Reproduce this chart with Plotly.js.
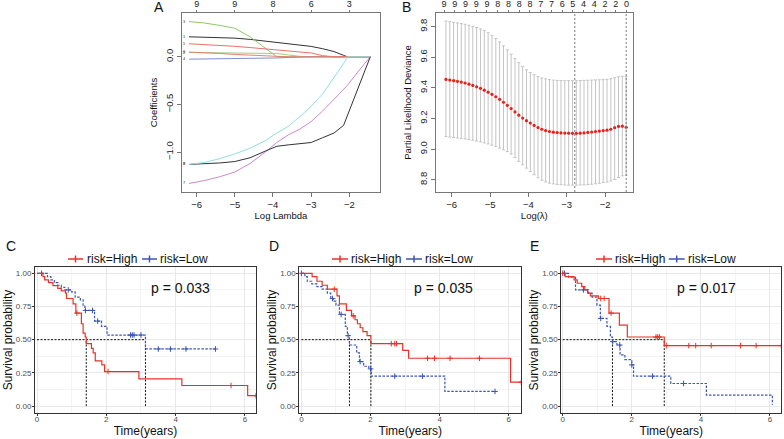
<!DOCTYPE html>
<html><head><meta charset="utf-8">
<script src="https://cdn.plot.ly/plotly-3.0.1.min.js"></script>
<style>html,body{margin:0;padding:0;background:#fff}#chart{width:784px;height:439px}</style>
</head><body><div id="chart"></div>
<script>
// ---------- Panel A: LASSO coefficient paths ----------
const aLogLambda = [-6.2,-5.8,-5.4,-5.0,-4.6,-4.2,-3.9,-3.6,-3.3,-3.0,-2.7,-2.4,-2.15,-2.05,-1.8,-1.45];
const aCoefV1 = [0.21,0.207,0.202,0.196,0.183,0.163,0.15,0.137,0.123,0.109,0.085,0.055,0.015,0,0,0];
const aCoefV2 = [0.045,0.044,0.043,0.042,0.041,0.04,0.035,0.02,0.005,0,0,0,0,0,0,0];
const aCoefV3 = [0.37,0.355,0.33,0.30,0.21,0.085,0,0,0,0,0,0,0,0,0,0];
const aCoefV4 = [-0.025,-0.024,-0.022,-0.02,-0.018,-0.015,-0.012,-0.007,0,0,0,0,0,0,0,0];
const aCoefV5 = [0.137,0.13,0.12,0.11,0.097,0.082,0.072,0.063,0.054,0.04,0.012,0,0,0,0,0];
const aCoefV6 = [0.05,0.045,0.035,0.025,0.015,0.01,0.005,0,0,0,0,0,0,0,0,0];
const aCoefV7 = [-1.33,-1.30,-1.26,-1.21,-1.12,-1.00,-0.90,-0.82,-0.76,-0.68,-0.57,-0.45,-0.34,-0.30,-0.17,0];
const aCoefV8 = [-1.13,-1.125,-1.115,-1.10,-1.06,-0.99,-0.94,-0.925,-0.915,-0.90,-0.85,-0.80,-0.72,-0.62,-0.36,0];
const aCoefV9 = [-1.13,-1.11,-1.07,-1.02,-0.96,-0.88,-0.80,-0.73,-0.63,-0.52,-0.39,-0.22,-0.07,0,0,0];
const aVarLabels = ['1','2','3','4','5','6','7','8','9'];
const aTopPos = [-6,-5,-4,-3,-2];
const aTopLabels = ['9','9','8','6','3'];

// ---------- Panel B: cross-validation ----------
const bLogLambda = [-6.15,-6.05,-5.95,-5.85,-5.75,-5.65,-5.55,-5.45,-5.35,-5.25,-5.15,-5.05,-4.95,-4.85,-4.75,-4.65,-4.55,-4.45,-4.35,-4.25,-4.15,-4.05,-3.95,-3.85,-3.75,-3.65,-3.55,-3.45,-3.35,-3.25,-3.15,-3.05,-2.95,-2.85,-2.75,-2.65,-2.55,-2.45,-2.35,-2.25,-2.15,-2.05,-1.95,-1.85,-1.75,-1.65,-1.55,-1.45];
const bDevMean = [9.455,9.451,9.447,9.443,9.438,9.432,9.424,9.416,9.407,9.397,9.385,9.372,9.358,9.342,9.325,9.306,9.286,9.265,9.243,9.222,9.203,9.186,9.170,9.155,9.141,9.130,9.121,9.115,9.111,9.108,9.106,9.105,9.104,9.103,9.103,9.104,9.106,9.109,9.112,9.115,9.118,9.121,9.124,9.130,9.140,9.148,9.150,9.143];
const bDevUpper = [9.836,9.832,9.828,9.824,9.820,9.815,9.809,9.802,9.794,9.785,9.774,9.760,9.743,9.723,9.700,9.675,9.648,9.620,9.592,9.565,9.540,9.518,9.500,9.486,9.474,9.465,9.459,9.454,9.451,9.449,9.448,9.447,9.447,9.447,9.447,9.448,9.449,9.450,9.451,9.452,9.453,9.454,9.456,9.460,9.466,9.472,9.476,9.474];
const bDevLower = [9.082,9.079,9.076,9.073,9.070,9.066,9.062,9.058,9.053,9.047,9.041,9.034,9.026,9.017,9.007,8.996,8.984,8.968,8.945,8.920,8.898,8.876,8.854,8.833,8.813,8.797,8.786,8.778,8.773,8.770,8.768,8.766,8.765,8.765,8.765,8.766,8.767,8.769,8.771,8.774,8.777,8.781,8.785,8.792,8.802,8.815,8.826,8.830];
const bCutoffs = [-2.79, -1.45];
const bTopPos = [-6.2,-5.92,-5.64,-5.36,-5.08,-4.8,-4.52,-4.24,-3.96,-3.68,-3.4,-3.12,-2.84,-2.56,-2.28,-2.0,-1.72,-1.44];
const bTopLabels = ['9','9','9','9','9','8','8','8','8','7','7','6','5','4','4','2','2','0'];

// ---------- Panels C, D, E: Kaplan-Meier ----------
const groupNames = ['risk=High','risk=Low'];
const cHighT = [0,0.17,0.22,0.33,0.46,0.6,0.7,0.82,0.85,1.04,1.12,1.28,1.33,1.39,1.42,1.57,1.62,1.68,1.87,1.95,2.94,4.18,6.08];
const cHighS = [1,0.975,0.95,0.93,0.907,0.887,0.867,0.85,0.81,0.77,0.70,0.62,0.55,0.52,0.47,0.435,0.40,0.34,0.31,0.26,0.205,0.155,0.078];
const cHighEnd = 6.32;
const cHighCens = [1.15,2.05,5.6,6.32];
const cLowT = [0,0.3,0.4,0.5,0.6,0.7,0.8,1.0,1.1,1.25,1.33,1.38,1.66,1.86,2.02,3.13];
const cLowS = [1,0.975,0.95,0.93,0.91,0.895,0.875,0.86,0.82,0.80,0.76,0.72,0.64,0.60,0.535,0.43];
const cLowEnd = 5.15;
const cLowCens = [0.13,0.9,1.4,1.6,1.75,2.7,2.75,2.8,3.0,3.5,3.85,4.3,5.15];
const cP = 'p = 0.033';

const dHighT = [0,0.31,0.45,0.6,0.75,1.03,1.1,1.3,1.45,1.55,1.62,1.7,1.78,1.9,2.01,2.93,3.1,6.05];
const dHighS = [1,0.975,0.94,0.91,0.88,0.83,0.77,0.72,0.68,0.65,0.62,0.59,0.56,0.53,0.47,0.42,0.36,0.18];
const dHighEnd = 6.36;
const dHighCens = [0.95,1.5,2.6,2.7,2.75,3.65,3.85,4.3,5.15,6.36];
const dLowT = [0,0.1,0.17,0.3,0.45,0.6,0.75,0.85,0.92,1.0,1.1,1.27,1.33,1.39,1.6,1.68,1.8,1.95,2.02,4.15];
const dLowS = [1,0.975,0.94,0.92,0.9,0.88,0.85,0.81,0.79,0.76,0.69,0.6,0.53,0.46,0.40,0.335,0.30,0.28,0.225,0.11];
const dLowEnd = 5.6;
const dLowCens = [0.0,0.9,1.15,1.35,1.7,2.0,2.7,3.5,5.6];
const dP = 'p = 0.035';

const eHighT = [0,0.07,0.33,0.42,0.55,0.64,0.72,0.8,1.03,1.34,1.64,1.87,2.94];
const eHighS = [1,0.975,0.95,0.925,0.9,0.875,0.85,0.83,0.81,0.70,0.61,0.52,0.455];
const eHighEnd = 6.33;
const eHighCens = [0.0,1.1,1.2,1.4,2.7,2.75,2.8,3.0,3.65,3.85,4.3,5.15,5.6,6.33];
const eLowT = [0,0.17,0.37,0.75,0.85,0.99,1.09,1.28,1.38,1.44,1.57,1.66,1.8,2.0,2.05,3.13,4.16,6.07];
const eLowS = [1,0.97,0.875,0.85,0.82,0.76,0.66,0.60,0.52,0.485,0.46,0.385,0.35,0.31,0.225,0.17,0.083,0.01];
const eLowEnd = 6.07;
const eLowCens = [0.05,0.6,1.1,1.45,1.65,2.0,2.6,3.5];
const eP = 'p = 0.017';

// ---------- styles ----------
const W = 784, H = 439;
const FONT = 'Liberation Sans, Arial, Helvetica, sans-serif';
const RED = '#e6332a', BLUE = '#3b55b0';
const pathColors = ['#333333','#9ccf7a','#8cc86a','#7a8fd8','#e9706b','#e9806f','#cc88cc','#333333','#8fe0e0'];

function survAt(T, S, t) { let v = S[0]; for (let i = 0; i < T.length; i++) { if (T[i] <= t) v = S[i]; } return v; }
function median(T, S) { for (let i = 0; i < T.length; i++) { if (S[i] <= 0.5) return T[i]; } return null; }

const traces = [];
// Panel A
const aCoefs = [aCoefV1,aCoefV2,aCoefV3,aCoefV4,aCoefV5,aCoefV6,aCoefV7,aCoefV8,aCoefV9];
aCoefs.forEach((c, i) => traces.push({x: aLogLambda, y: c, mode: 'lines', line: {color: pathColors[i], width: 1}, xaxis: 'x', yaxis: 'y', showlegend: false, hoverinfo: 'skip'}));
traces.push({x: aCoefs.map(() => aLogLambda[0] - 0.13), y: aCoefs.map(c => c[0]), text: aVarLabels, mode: 'text', textfont: {size: 4, color: '#333'}, xaxis: 'x', yaxis: 'y', showlegend: false, hoverinfo: 'skip'});
traces.push({x: [null], y: [null], xaxis: 'x6', yaxis: 'y', showlegend: false, hoverinfo: 'skip'});
// Panel B
traces.push({x: bLogLambda, y: bDevMean, mode: 'markers', marker: {color: '#e8201c', size: 3.2},
  error_y: {type: 'data', symmetric: false, array: bDevUpper.map((u, i) => u - bDevMean[i]), arrayminus: bDevLower.map((l, i) => bDevMean[i] - l), color: '#c4c4c4', thickness: 1, width: 1.5},
  xaxis: 'x2', yaxis: 'y2', showlegend: false, hoverinfo: 'skip'});
traces.push({x: [null], y: [null], xaxis: 'x7', yaxis: 'y2', showlegend: false, hoverinfo: 'skip'});

// KM panels
function kmPanel(xa, ya, high, low) {
  const groups = [high, low];
  const meds = groups.map(g => median(g.T, g.S));
  const mx = [0, Math.max(...meds), null], my = [0.5, 0.5, null];
  meds.forEach(m => { mx.push(m, m, null); my.push(0, 0.5, null); });
  traces.push({x: mx, y: my, mode: 'lines', line: {color: '#111', width: 1, dash: '2px,1.5px'}, xaxis: xa, yaxis: ya, showlegend: false, hoverinfo: 'skip'});
  groups.slice().reverse().forEach(g => {
    traces.push({x: g.T.concat([g.end]), y: g.S.concat([g.S[g.S.length - 1]]), mode: 'lines', name: g.name,
      line: {shape: 'hv', color: g.color, width: 1.2, dash: g.dash}, xaxis: xa, yaxis: ya, showlegend: false, hoverinfo: 'skip'});
    traces.push({x: g.cens, y: g.cens.map(t => survAt(g.T, g.S, t)), mode: 'markers',
      marker: {symbol: 'cross-thin', size: 4, color: g.color, line: {color: g.color, width: 1}}, xaxis: xa, yaxis: ya, showlegend: false, hoverinfo: 'skip'});
  });
}
kmPanel('x3', 'y3', {name: groupNames[0], T: cHighT, S: cHighS, end: cHighEnd, cens: cHighCens, color: RED, dash: 'solid'},
                    {name: groupNames[1], T: cLowT, S: cLowS, end: cLowEnd, cens: cLowCens, color: BLUE, dash: '2.5px,1.5px'});
kmPanel('x4', 'y4', {name: groupNames[0], T: dHighT, S: dHighS, end: dHighEnd, cens: dHighCens, color: RED, dash: 'solid'},
                    {name: groupNames[1], T: dLowT, S: dLowS, end: dLowEnd, cens: dLowCens, color: BLUE, dash: '2.5px,1.5px'});
kmPanel('x5', 'y5', {name: groupNames[0], T: eHighT, S: eHighS, end: eHighEnd, cens: eHighCens, color: RED, dash: 'solid'},
                    {name: groupNames[1], T: eLowT, S: eLowS, end: eLowEnd, cens: eLowCens, color: BLUE, dash: '2.5px,1.5px'});

// ---------- axes ----------
const rAx = {showline: true, linecolor: '#777', linewidth: 1, mirror: true, ticks: 'outside', ticklen: 4, tickcolor: '#777',
  showgrid: false, zeroline: false, tickfont: {size: 9.5, color: '#222'}};
const topAx = {side: 'top', ticks: 'outside', ticklen: 2, tickcolor: '#777', showline: false, showgrid: false, zeroline: false,
  tickfont: {size: 9, color: '#222'}, ticklabelstandoff: -1};
const aXR = [-6.385, -1.196], bXR = [-6.41, -1.28];
const kmX = (dom, rng) => ({domain: dom, range: rng, tickvals: [0, 2, 4, 6], ticks: 'outside', ticklen: 2, tickcolor: '#333',
  tickfont: {size: 8, color: '#4d4d4d'}, ticklabelstandoff: -3, showline: true, linecolor: '#333', linewidth: 1, mirror: true, showgrid: true, gridcolor: '#e8e8e8',
  minor: {dtick: 1, tick0: 0, showgrid: true, gridcolor: '#f4f4f4'}, zeroline: false,
  title: {text: 'Time(years)', font: {size: 12, color: '#111'}, standoff: 3}});
const kmY = (anchor) => ({domain: [0.0599, 0.3911], range: [-0.05, 1.045], anchor: anchor, tickvals: [0, 0.25, 0.5, 0.75, 1], tickformat: '.2f',
  ticks: 'outside', ticklen: 2, tickcolor: '#333', tickfont: {size: 8, color: '#4d4d4d'}, ticklabelstandoff: -1, showline: true, linecolor: '#333', linewidth: 1, mirror: true,
  showgrid: true, gridcolor: '#e8e8e8', minor: {dtick: 0.125, tick0: 0, showgrid: true, gridcolor: '#f4f4f4'}, zeroline: false,
  title: {text: 'Survival probability', font: {size: 12, color: '#111'}, standoff: 0}});

const yA = 1 - 259 / H;
const shapes = [], annotations = [];
bCutoffs.forEach(v => shapes.push({type: 'line', xref: 'x2', yref: 'y2 domain', x0: v, x1: v, y0: 0, y1: 1, line: {color: '#777', width: 1, dash: '2px,2px'}}));
function legendItem(x0, x1, tx, color, text) {
  shapes.push({type: 'line', xref: 'paper', yref: 'paper', x0: x0 / W, x1: x1 / W, y0: yA, y1: yA, line: {color: color, width: 1.5}});
  const xc = (x0 + x1) / 2 / W;
  shapes.push({type: 'line', xref: 'paper', yref: 'paper', x0: xc, x1: xc, y0: 1 - 255.5 / H, y1: 1 - 262.5 / H, line: {color: color, width: 1.5}});
  annotations.push({xref: 'paper', yref: 'paper', x: tx / W, y: yA, xanchor: 'left', yanchor: 'middle', text: text, showarrow: false, font: {size: 12, color: '#111'}, borderpad: 0});
}
legendItem(68, 83, 86, RED, groupNames[0]); legendItem(142, 157, 159, BLUE, groupNames[1]);
legendItem(332, 348, 349.5, RED, groupNames[0]); legendItem(406, 422, 423.5, BLUE, groupNames[1]);
legendItem(596, 612, 613.5, RED, groupNames[0]); legendItem(668.7, 684.7, 687, BLUE, groupNames[1]);
[['A', 159, 7], ['B', 406, 7], ['C', 11, 246], ['D', 274, 246], ['E', 534, 246]].forEach(([t, x, y]) =>
  annotations.push({xref: 'paper', yref: 'paper', x: x / W, y: 1 - y / H, xanchor: 'center', yanchor: 'middle', text: t, showarrow: false, font: {size: 14, color: '#111'}}));
[[cP, 180.5], [dP, 443.5], [eP, 706]].forEach(([t, x]) =>
  annotations.push({xref: 'paper', yref: 'paper', x: x / W, y: 1 - 288 / H, xanchor: 'center', yanchor: 'middle', text: t, showarrow: false, font: {size: 14, color: '#111'}}));

const layout = {
  width: W, height: H, margin: {l: 0, r: 0, t: 0, b: 0}, paper_bgcolor: '#fff', plot_bgcolor: '#fff',
  font: {family: FONT, color: '#111'}, showlegend: false,
  xaxis: Object.assign({}, rAx, {domain: [0.2321, 0.4847], range: aXR, anchor: 'y', tickvals: [-6, -5, -4, -3, -2],
    title: {text: 'Log Lambda', font: {size: 9.5}, standoff: 2}}),
  yaxis: Object.assign({}, rAx, {domain: [0.5626, 0.9704], range: [-1.42, 0.46], anchor: 'x', tickvals: [-1, -0.5, 0], tickformat: '.1f', tickangle: -90,
    title: {text: 'Coefficients', font: {size: 9.5}, standoff: 4}}),
  xaxis6: Object.assign({}, topAx, {overlaying: 'x', anchor: 'y', range: aXR, tickvals: aTopPos, ticktext: aTopLabels}),
  xaxis2: Object.assign({}, rAx, {domain: [0.5561, 0.807], range: bXR, anchor: 'y2', tickvals: [-6, -5, -4, -3, -2],
    title: {text: 'Log(λ)', font: {size: 9.5}, standoff: 2}}),
  yaxis2: Object.assign({}, rAx, {domain: [0.5626, 0.9704], range: [8.72, 9.889], anchor: 'x2', tickvals: [8.8, 9.0, 9.2, 9.4, 9.6, 9.8], tickformat: '.1f', tickangle: -90,
    title: {text: 'Partial Likelihood Deviance', font: {size: 9.5}, standoff: 4}}),
  xaxis7: Object.assign({}, topAx, {overlaying: 'x2', anchor: 'y2', range: bXR, tickvals: bTopPos, ticktext: bTopLabels}),
  xaxis3: Object.assign(kmX([0.0446, 0.3265], [-0.06, 6.32]), {anchor: 'y3'}),
  yaxis3: kmY('x3'),
  xaxis4: Object.assign(kmX([0.3818, 0.6649], [-0.06, 6.36]), {anchor: 'y4'}),
  yaxis4: kmY('x4'),
  xaxis5: Object.assign(kmX([0.716, 0.9966], [-0.04, 6.33]), {anchor: 'y5'}),
  yaxis5: kmY('x5'),
  shapes: shapes, annotations: annotations
};
Plotly.newPlot('chart', traces, layout, {displayModeBar: false, staticPlot: true});
</script>
</body></html>
